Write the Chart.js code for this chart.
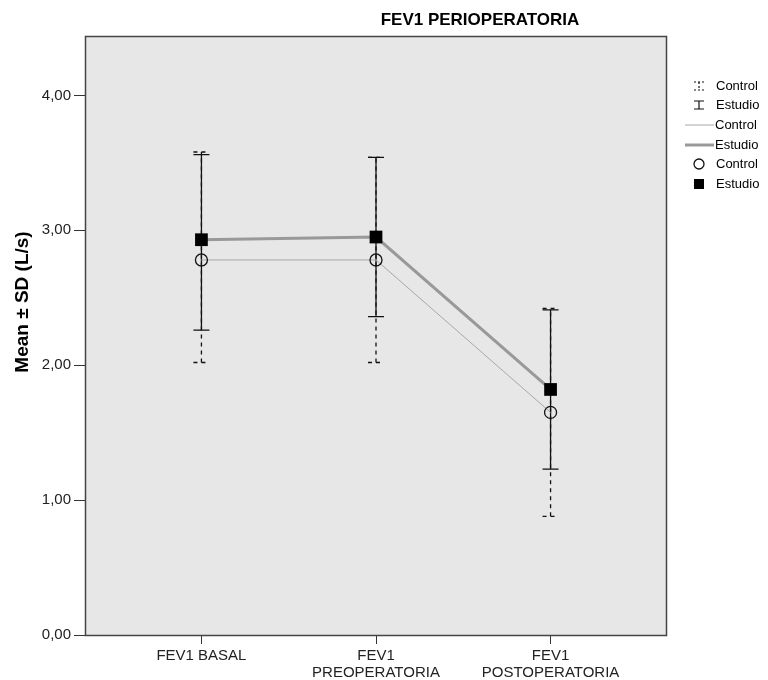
<!DOCTYPE html>
<html>
<head>
<meta charset="utf-8">
<script src="https://cdn.jsdelivr.net/npm/chart.js@4.4.1/dist/chart.umd.min.js"></script>
<style>
  body { margin: 0; background: #fff; }
  #wrap { width: 768px; height: 680px; }
</style>
</head>
<body>
<div id="wrap"><canvas id="fevChart" width="768" height="680"></canvas></div>
<script>
const categories = ['FEV1 BASAL', ['FEV1', 'PREOPERATORIA'], ['FEV1', 'POSTOPERATORIA']];
const yTicks = [0, 1, 2, 3, 4];

const controlMean = [2.78, 2.78, 1.65];
const controlLow = [2.02, 2.02, 0.88];
const controlHigh = [3.58, 3.54, 2.42];

const estudioMean = [2.93, 2.95, 1.82];
const estudioLow = [2.26, 2.36, 1.23];
const estudioHigh = [3.56, 3.54, 2.41];

const FONT = '"Liberation Sans", Arial, sans-serif';
const ctx = document.getElementById('fevChart').getContext('2d');

const toPoints = arr => arr.map((v, i) => ({ x: i, y: v }));

// error bars, plot background and frame
const errorBars = {
  id: 'errorBars',
  beforeDraw(chart) {
    const { ctx, chartArea: a } = chart;
    ctx.save();
    ctx.fillStyle = '#e7e7e7';
    ctx.fillRect(a.left, a.top, a.right - a.left, a.bottom - a.top);
    ctx.restore();
  },
  beforeDatasetsDraw(chart) {
    const { ctx, scales } = chart;
    const bar = (low, high, dashed) => {
      ctx.save();
      ctx.strokeStyle = '#111';
      ctx.lineWidth = 1.3;
      ctx.setLineDash(dashed ? [4, 4] : []);
      low.forEach((lo, i) => {
        const x = scales.x.getPixelForValue(i);
        const y1 = scales.y.getPixelForValue(lo);
        const y2 = scales.y.getPixelForValue(high[i]);
        ctx.beginPath();
        ctx.moveTo(x, y1); ctx.lineTo(x, y2);
        ctx.moveTo(x - 8, y1); ctx.lineTo(x + 8, y1);
        ctx.moveTo(x - 8, y2); ctx.lineTo(x + 8, y2);
        ctx.stroke();
      });
      ctx.restore();
    };
    bar(controlLow, controlHigh, true);
    bar(estudioLow, estudioHigh, false);
  },
  afterDraw(chart) {
    const { ctx, chartArea: a } = chart;
    ctx.save();
    // frame
    ctx.strokeStyle = '#444';
    ctx.lineWidth = 1.5;
    ctx.strokeRect(a.left + 0.5, a.top + 0.5, a.right - a.left - 1, a.bottom - a.top);

    // title
    ctx.fillStyle = '#000';
    ctx.font = 'bold 17px ' + FONT;
    ctx.textAlign = 'center';
    ctx.textBaseline = 'middle';
    ctx.fillText('FEV1 PERIOPERATORIA', 480, 20);

    // y axis title
    ctx.save();
    ctx.translate(23, 302);
    ctx.rotate(-Math.PI / 2);
    ctx.font = 'bold 19px ' + FONT;
    ctx.fillText('Mean \u00b1 SD (L/s)', 0, 0);
    ctx.restore();

    // legend
    ctx.font = '13px ' + FONT;
    ctx.textAlign = 'left';
    ctx.fillStyle = '#000';
    const sx = 699, tx = 716;
    const rows = [86, 105, 125, 145, 164, 184];
    ctx.strokeStyle = '#111';
    ctx.lineWidth = 1.2;
    // dashed error bar symbol
    ctx.setLineDash([2, 2]);
    ctx.beginPath();
    ctx.moveTo(sx, rows[0] - 4); ctx.lineTo(sx, rows[0] + 4);
    ctx.moveTo(sx - 5, rows[0] - 4); ctx.lineTo(sx + 5, rows[0] - 4);
    ctx.moveTo(sx - 5, rows[0] + 4); ctx.lineTo(sx + 5, rows[0] + 4);
    ctx.stroke();
    ctx.setLineDash([]);
    // solid error bar symbol
    ctx.beginPath();
    ctx.moveTo(sx, rows[1] - 4); ctx.lineTo(sx, rows[1] + 4);
    ctx.moveTo(sx - 5, rows[1] - 4); ctx.lineTo(sx + 5, rows[1] - 4);
    ctx.moveTo(sx - 5, rows[1] + 4); ctx.lineTo(sx + 5, rows[1] + 4);
    ctx.stroke();
    // lines
    ctx.strokeStyle = '#a8a8a8';
    ctx.lineWidth = 1;
    ctx.beginPath(); ctx.moveTo(685, rows[2]); ctx.lineTo(714, rows[2]); ctx.stroke();
    ctx.strokeStyle = '#999';
    ctx.lineWidth = 3;
    ctx.beginPath(); ctx.moveTo(685, rows[3]); ctx.lineTo(714, rows[3]); ctx.stroke();
    // markers
    ctx.strokeStyle = '#111';
    ctx.lineWidth = 1.3;
    ctx.beginPath(); ctx.arc(sx, rows[4], 5, 0, Math.PI * 2); ctx.stroke();
    ctx.fillStyle = '#000';
    ctx.fillRect(sx - 5, rows[5] - 5, 10, 10);

    ['Control', 'Estudio', 'Control', 'Estudio', 'Control', 'Estudio'].forEach((t, i) => {
      ctx.fillText(t, (i === 2 || i === 3) ? tx - 1 : tx, rows[i]);
    });
    ctx.restore();
  }
};

const chart = new Chart(ctx, {
  type: 'line',
  data: {
    datasets: [{
      label: 'Control',
      data: toPoints(controlMean),
      borderColor: '#a8a8a8',
      borderWidth: 1,
      pointStyle: 'circle',
      pointRadius: 6,
      pointBorderWidth: 1.3,
      pointBorderColor: '#111',
      pointBackgroundColor: 'rgba(0,0,0,0)',
      tension: 0,
    }, {
      label: 'Estudio',
      data: toPoints(estudioMean),
      borderColor: '#999',
      borderWidth: 3,
      pointStyle: 'rect',
      pointRadius: 9,
      pointBorderWidth: 0,
      pointBackgroundColor: '#000',
      tension: 0,
    }]
  },
  options: {
    responsive: false,
    animation: false,
    layout: { padding: { left: 0, right: 101, top: 36, bottom: 0 } },
    plugins: {
      legend: { display: false },
      tooltip: { enabled: false },
      title: { display: false },
    },
    scales: {
      x: {
        type: 'linear',
        min: -0.667,
        max: 2.667,
        afterBuildTicks: scale => { scale.ticks = categories.map((c, i) => ({ value: i })); },
        afterFit: scale => { scale.height = 45; },
        grid: { drawOnChartArea: false, drawTicks: true, tickLength: 9, color: '#333' },
        border: { display: false },
        ticks: {
          color: '#222',
          font: { family: FONT, size: 15, lineHeight: 1.13 },
          padding: 3,
          maxRotation: 0,
          autoSkip: false,
          callback: value => categories[value],
        },
      },
      y: {
        min: 0,
        max: 4.44,
        afterBuildTicks: scale => { scale.ticks = yTicks.map(v => ({ value: v })); },
        afterFit: scale => { scale.width = 85; },
        grid: { drawOnChartArea: false, drawTicks: true, tickLength: 11, color: '#333' },
        border: { display: false },
        ticks: {
          color: '#222',
          font: { family: FONT, size: 15 },
          padding: 3,
          callback: value => value.toFixed(2).replace('.', ','),
        },
      }
    }
  },
  plugins: [errorBars]
});
</script>
</body>
</html>
